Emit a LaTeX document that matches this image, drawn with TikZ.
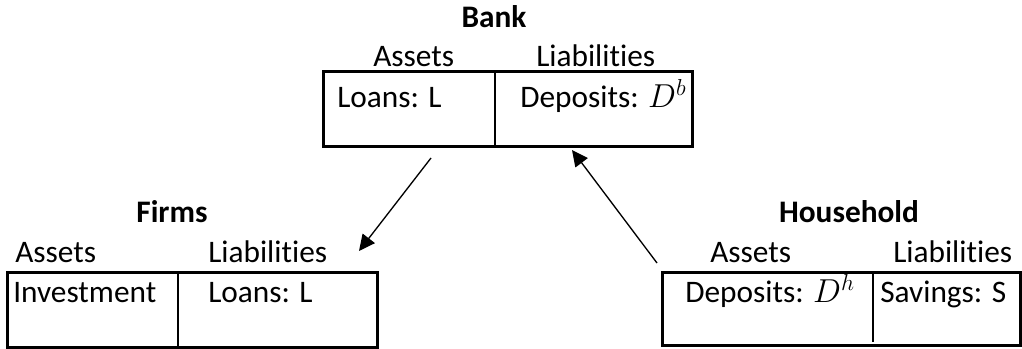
\documentclass[tikz,border=0pt]{standalone}
\usepackage{fontspec}
\setmainfont{Carlito}[Ligatures=NoCommon]
\usetikzlibrary{positioning,calc,arrows.meta}

\tikzset{
  sheet/.style={draw, line width=2.25pt, inner sep=0pt},
  split/.style={line width=0.8pt},
  label/.style={inner sep=0pt, anchor=base west},
  title/.style={inner sep=0pt, anchor=base, font=\fontsize{23.5}{28}\selectfont\bfseries},
  flow/.style={line width=1pt, -{Triangle[length=12pt,width=11.5pt]}}
}

\begin{document}
\begin{tikzpicture}[x=0.75pt, y=-0.75pt, font=\fontsize{23.5}{28}\selectfont]
    \useasboundingbox (0,0) rectangle (1022,349);

    % bank
    \node[title] (bankname) at (494,28) {Bank};
    \node[label] (bankass) at (373,67) {Assets};
    \node[label] (banklia) at (536,67) {Liabilities};
    \node[sheet, minimum width=276.75pt, minimum height=56.25pt] (bank) at (507.5,109.5) {};
    \draw[split] (495,72) -- (495,147);
    \node[label] (loans) at (337,108) {Loans: L};
    \node[label] (depb) at (520,108) {Deposits: $D^b$};

    % firms
    \node[title] (firmname) at (172,223) {Firms};
    \node[label] (firmass) at (15,263) {Assets};
    \node[label] (firmlia) at (208,263) {Liabilities};
    \node[sheet, minimum width=277.5pt, minimum height=55.5pt] (firms) at (192,310) {};
    \draw[split] (178,273) -- (178,347);
    \node[label] (invest) at (13,303) {Investment};
    \node[label] (firmloans) at (208,303) {Loans: L};

    % household
    \node[title] (hhname) at (849,223) {Household};
    \node[label] (hhass) at (710,263) {Assets};
    \node[label] (hhlia) at (893,263) {Liabilities};
    \node[sheet, minimum width=268.5pt, minimum height=54pt] (house) at (841,309) {};
    \draw[split] (873,273) -- (873,342);
    \node[label] (deph) at (685,303) {Deposits: $D^h$};
    \node[label] (savings) at (880,303) {Savings: S};

    % flows
    \coordinate (lendout) at (431,158);
    \coordinate (lendin) at (359,251);
    \coordinate (saveout) at (657,263);
    \coordinate (savein) at (572,150);
    \draw[flow] (lendout) -- (lendin);
    \draw[flow] (saveout) -- (savein);
\end{tikzpicture}
\end{document}
